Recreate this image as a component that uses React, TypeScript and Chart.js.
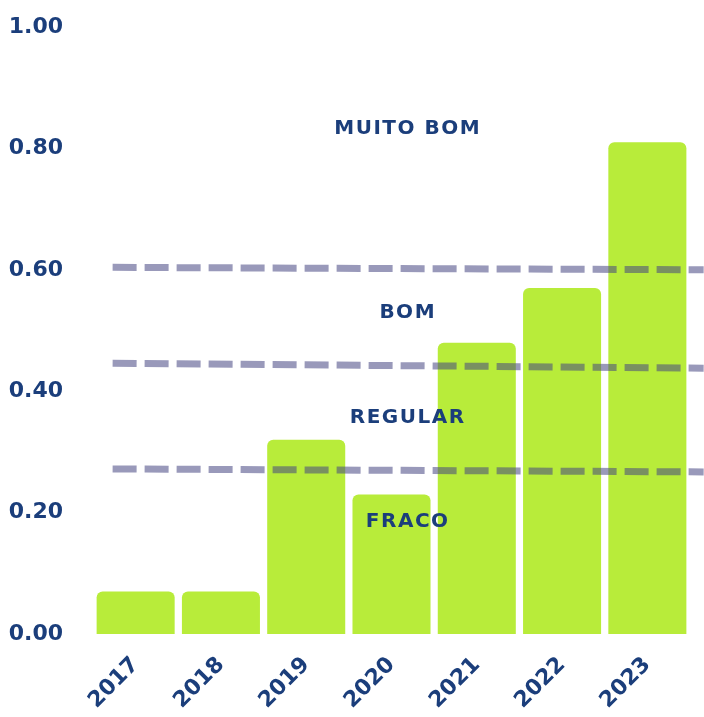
import React, { useEffect, useRef } from "react";
import { Chart, registerables } from "chart.js";
Chart.register(...registerables);

const years = ["2017", "2018", "2019", "2020", "2021", "2022", "2023"];
const scores = [0.07, 0.07, 0.32, 0.23, 0.48, 0.57, 0.81];
const yTickValues = [0, 0.2, 0.4, 0.6, 0.8, 1.0];

// threshold lines: [start, end] positions in category-index units, and their values
const thresholdX = [-0.27, 6.66];
const thresholdMuitoBom = [0.604, 0.6];
const thresholdBom = [0.446, 0.438];
const thresholdRegular = [0.272, 0.267];

const zoneLabels = ["MUITO BOM", "BOM", "REGULAR", "FRACO"];
const zoneLabelY = [0.832, 0.529, 0.356, 0.185];
const zoneLabelX = 3.19;

const NAVY = "#1b3e7b";
const FONT = "'DejaVu Sans', sans-serif";

export default function App() {
  const ref = useRef<HTMLCanvasElement | null>(null);
  useEffect(() => {
    document.body.style.margin = "0";
    const canvas = ref.current!;
    const overlayPlugin = {
      id: "overlay",
      afterDatasetsDraw(chart: any) {
        const c = chart.ctx;
        const xs = chart.scales.x;
        const ys = chart.scales.y;
        c.save();
        // threshold dashed lines
        c.strokeStyle = "rgba(70,70,130,0.55)";
        c.lineWidth = 7;
        c.setLineDash([24, 8]);
        c.lineCap = "butt";
        [thresholdMuitoBom, thresholdBom, thresholdRegular].forEach((vals) => {
          c.beginPath();
          c.moveTo(xs.getPixelForValue(thresholdX[0]), ys.getPixelForValue(vals[0]));
          c.lineTo(xs.getPixelForValue(thresholdX[1]), ys.getPixelForValue(vals[1]));
          c.stroke();
        });
        c.setLineDash([]);
        // zone labels
        c.fillStyle = NAVY;
        c.font = `bold 20px ${FONT}`;
        (c as any).letterSpacing = "1.5px";
        c.textAlign = "center";
        c.textBaseline = "middle";
        zoneLabels.forEach((t, i) => {
          c.fillText(t, xs.getPixelForValue(zoneLabelX), ys.getPixelForValue(zoneLabelY[i]));
        });
        c.restore();
      },
    };
    const chart = new Chart(canvas, {
      type: "bar",
      data: {
        labels: years,
        datasets: [
          {
            data: scores,
            backgroundColor: "#b8ec3a",
            borderRadius: { topLeft: 6, topRight: 6, bottomLeft: 0, bottomRight: 0 },
            borderSkipped: "start",
            categoryPercentage: 1,
            barPercentage: 0.915,
          },
        ],
      },
      options: {
        responsive: false,
        devicePixelRatio: 1,
        animation: false,
        layout: { padding: { top: 27, right: 14, left: 0, bottom: 0 } },
        plugins: { legend: { display: false }, tooltip: { enabled: false } },
        scales: {
          x: {
            type: "category",
            grid: { display: false },
            border: { display: false },
            ticks: {
              color: NAVY,
              font: { family: FONT, size: 22, weight: "bold" },
              maxRotation: 45,
              minRotation: 45,
              padding: 10,
            },
            afterFit: (s: any) => {
              s.height = 83;
              s.paddingTop = 0;
            },
          },
          y: {
            min: 0,
            max: 1,
            grid: { display: false },
            border: { display: false },
            afterBuildTicks: (s: any) => {
              s.ticks = yTickValues.map((v) => ({ value: v }));
            },
            ticks: {
              color: NAVY,
              font: { family: FONT, size: 22, weight: "bold" },
              padding: 22,
              callback: (v: any) => Number(v).toFixed(2),
            },
            afterFit: (s: any) => {
              s.width = 93;
              s.paddingTop = 0;
              s.paddingBottom = 0;
            },
          },
        },
      },
      plugins: [overlayPlugin],
    });
    return () => chart.destroy();
  }, []);
  return (
    <div style={{ width: 704, height: 717 }}>
      <canvas ref={ref} width={704} height={717} style={{ display: "block" }} />
    </div>
  );
}
